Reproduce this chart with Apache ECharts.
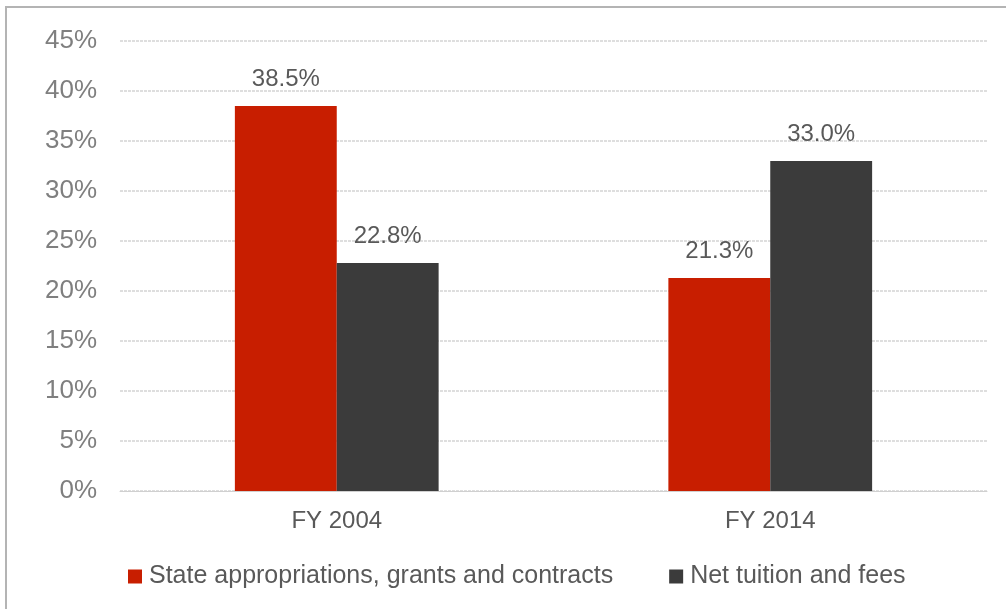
<!DOCTYPE html>
<html>
<head>
<meta charset="utf-8">
<script src="https://cdn.jsdelivr.net/npm/echarts@6/dist/echarts.min.js"></script>
<style>
  html, body { margin: 0; padding: 0; background: #fff; }
  #wrap { position: relative; width: 1006px; height: 609px; overflow: hidden; }
  #frame { position: absolute; left: 5px; top: 6px; width: 1010px; height: 620px;
           border-top: 2px solid #b4b4b4; border-left: 2px solid #b4b4b4; box-sizing: border-box; }
  #chart { position: absolute; left: 0; top: 0; width: 1006px; height: 609px; }
</style>
</head>
<body>
<div id="wrap">
  <div id="frame"></div>
  <div id="chart"></div>
</div>
<script>
// Share of revenue by source, fiscal years 2004 and 2014 (percent)
const categories = ['FY 2004', 'FY 2014'];
const stateFunding = [38.5, 21.3];
const netTuition = [22.8, 33.0];
const seriesNames = ['State appropriations, grants and contracts', 'Net tuition and fees'];

const font = '"Liberation Sans", Arial, Helvetica, sans-serif';
const chart = echarts.init(document.getElementById('chart'), null, { renderer: 'canvas' });

const labelStyle = {
  show: true,
  position: 'top',
  distance: 15,
  color: '#595959',
  fontSize: 24,
  fontFamily: font,
  formatter: p => p.value.toFixed(1) + '%'
};

chart.setOption({
  animation: false,
  backgroundColor: 'transparent',
  grid: { left: 120, right: 19, top: 41, bottom: 118 },
  legend: {
    top: 559,
    left: 123,
    itemWidth: 14,
    itemHeight: 14,
    itemGap: 56,
    icon: 'rect',
    textStyle: { color: '#595959', fontSize: 25, fontFamily: font, padding: [0, 0, 0, 2] },
    data: seriesNames
  },
  xAxis: {
    type: 'category',
    data: categories,
    axisLine: { show: true, lineStyle: { color: '#d0d0d0', width: 1 } },
    axisTick: { show: false },
    axisLabel: { color: '#595959', fontSize: 24, fontFamily: font, margin: 18 }
  },
  yAxis: {
    type: 'value',
    min: 0,
    max: 45,
    interval: 5,
    axisLine: { show: false },
    axisTick: { show: false },
    axisLabel: { color: '#7f7f7f', fontSize: 26, fontFamily: font, margin: 23, formatter: v => v + '%' },
    splitLine: { lineStyle: { color: '#d4d4d4', width: 1.5, type: [3, 1] } }
  },
  series: [
    {
      name: seriesNames[0],
      type: 'bar',
      data: stateFunding,
      barGap: '0%',
      barCategoryGap: '53%',
      itemStyle: { color: '#c81e00' },
      label: labelStyle
    },
    {
      name: seriesNames[1],
      type: 'bar',
      data: netTuition,
      itemStyle: { color: '#3b3b3b' },
      label: labelStyle
    }
  ]
});
</script>
</body>
</html>
